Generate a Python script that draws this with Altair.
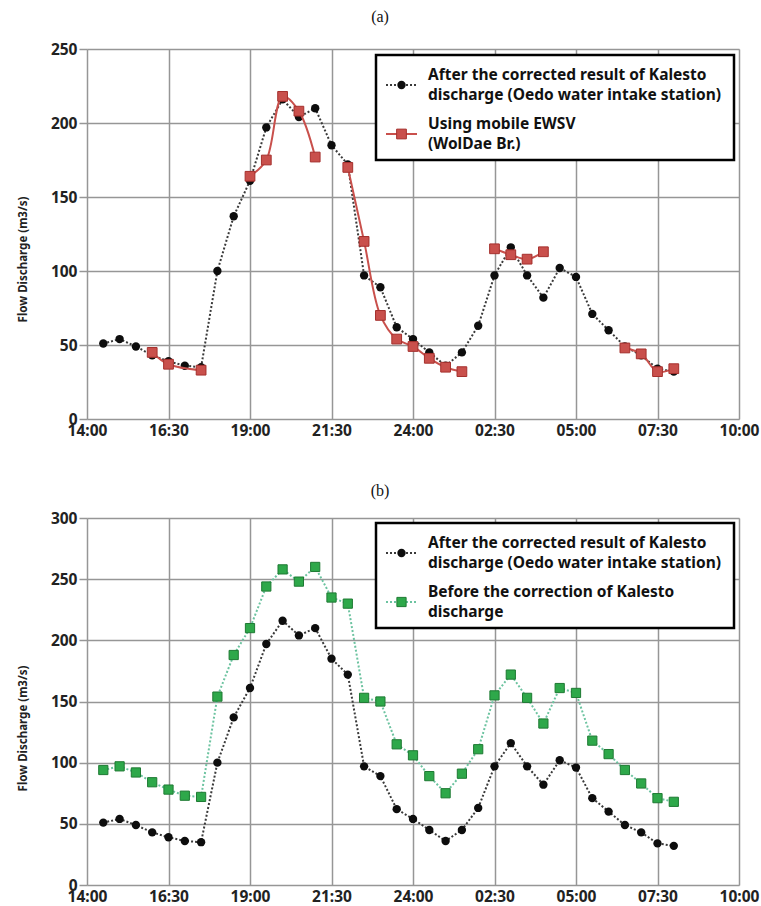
import altair as alt
import pandas as pd

# ---- time axis (30-minute readings, 14:30 on day 1 to 08:00 on day 2) ----
times = ["14:30", "15:00", "15:30", "16:00", "16:30", "17:00", "17:30", "18:00",
         "18:30", "19:00", "19:30", "20:00", "20:30", "21:00", "21:30", "22:00",
         "22:30", "23:00", "23:30", "24:00", "00:30", "01:00", "01:30", "02:00",
         "02:30", "03:00", "03:30", "04:00", "04:30", "05:00", "05:30", "06:00",
         "06:30", "07:00", "07:30", "08:00"]

# After the corrected result of Kalesto discharge (Oedo water intake station)
corrected = [51, 54, 49, 43, 39, 36, 35, 100, 137, 161, 197, 216, 204, 210, 185, 172,
             97, 89, 62, 54, 45, 36, 45, 63, 97, 116, 97, 82, 102, 96, 71, 60,
             49, 43, 34, 32]

# Before the correction of Kalesto discharge
before = [94, 97, 92, 84, 78, 73, 72, 154, 188, 210, 244, 258, 248, 260, 235, 230,
          153, 150, 115, 106, 89, 75, 91, 111, 155, 172, 153, 132, 161, 157, 118, 107,
          94, 83, 71, 68]

# Using mobile EWSV (WolDae Br.) -- measured runs, one group per continuous run
ewsv_times = ["16:00", "16:30", "17:30",
              "19:00", "19:30", "20:00", "20:30", "21:00",
              "22:00", "22:30", "23:00", "23:30", "24:00", "00:30", "01:00", "01:30",
              "02:30", "03:00", "03:30", "04:00",
              "06:30", "07:00", "07:30", "08:00"]
ewsv_vals = [45, 37, 33,
             164, 175, 218, 208, 177,
             170, 120, 70, 54, 49, 41, 35, 32,
             115, 111, 108, 113,
             48, 44, 32, 34]
ewsv_group = [1, 1, 1,
              2, 2, 2, 2, 2,
              3, 3, 3, 3, 3, 3, 3, 3,
              4, 4, 4, 4,
              5, 5, 5, 5]

tick_hours = [14, 16.5, 19, 21.5, 24, 26.5, 29, 31.5, 34]
tick_labels = ["14:00", "16:30", "19:00", "21:30", "24:00", "02:30", "05:00", "07:30", "10:00"]

legend_a = ["After the corrected result of Kalesto",
            "discharge (Oedo water intake station)",
            "Using mobile EWSV",
            "(WolDae Br.)"]
legend_b = ["After the corrected result of Kalesto",
            "discharge (Oedo water intake station)",
            "Before the correction of Kalesto",
            "discharge"]


def to_hours(t):
    h, m = t.split(":")
    h, m = int(h), int(m)
    if h < 14:
        h += 24
    return h + m / 60.0


base_df = pd.DataFrame({"t": [to_hours(t) for t in times],
                        "corrected": corrected, "before": before})
ewsv_df = pd.DataFrame({"t": [to_hours(t) for t in ewsv_times],
                        "q": ewsv_vals, "grp": ewsv_group})

label_expr = " : ".join(
    f"datum.value == {v} ? '{s}'" for v, s in zip(tick_hours, tick_labels)) + " : ''"

FONT = "Noto Sans"
BLACK_LINE = "#3a3a3a"
RED = "#C9504C"
RED_EDGE = "#A5302D"
GREEN = "#2EA84A"
GREEN_EDGE = "#1E7A33"
GREEN_LINE = "#6CC3A0"
GRID = "#969696"


def x_enc():
    return alt.X("t:Q",
                 scale=alt.Scale(domain=[14, 34], nice=False, zero=False),
                 axis=alt.Axis(values=tick_hours, labelExpr=label_expr, title=None,
                               grid=True, gridColor=GRID, gridWidth=1.5,
                               domain=False, ticks=False, labelFlush=False,
                               labelOverlap=False, labelFont=FONT,
                               labelFontWeight="bold", labelFontSize=15.5,
                               labelColor="#222", labelPadding=4))


def y_enc(field, ymax):
    return alt.Y(f"{field}:Q",
                 scale=alt.Scale(domain=[0, ymax], nice=False),
                 axis=alt.Axis(values=list(range(0, ymax + 1, 50)),
                               title="Flow Discharge (m3/s)",
                               titleFont=FONT, titleFontWeight="bold",
                               titleFontSize=11.5, titleColor="#222",
                               titleX=-64, titleY=210, titleAngle=-90,
                               titleAlign="center", titleBaseline="middle",
                               grid=True, gridColor=GRID, gridWidth=1.5,
                               domain=False, tickSize=8, tickColor=GRID,
                               tickWidth=1.5, labelFont=FONT,
                               labelFontWeight="bold", labelFontSize=15.5,
                               labelColor="#222", labelPadding=2))


def corrected_layers(ymax):
    line = alt.Chart(base_df).mark_line(
        color=BLACK_LINE, strokeWidth=2, strokeDash=[2, 2]
    ).encode(x=x_enc(), y=y_enc("corrected", ymax))
    pts = alt.Chart(base_df).mark_point(
        shape="circle", filled=True, color="#0d0d0d", size=70, opacity=1
    ).encode(x="t:Q", y="corrected:Q")
    return [line, pts]


def legend_layers(lines, y0, y1, second_kind):
    one = pd.DataFrame({"k": [0]})
    layers = []
    layers.append(alt.Chart(one).mark_rect(
        fill="white", stroke="black", strokeWidth=2.5
    ).encode(x=alt.value(289), x2=alt.value(647), y=alt.value(y0), y2=alt.value(y1)))
    # row offsets inside the box
    text_y = [y0 + 20, y0 + 40, y0 + 69, y0 + 89]
    for ty, s in zip(text_y, lines):
        layers.append(alt.Chart(one).mark_text(
            align="left", baseline="middle", font=FONT, fontWeight="bold",
            fontSize=15.5, color="#111"
        ).encode(x=alt.value(341), y=alt.value(ty), text=alt.value(s)))
    s1 = y0 + 30
    s2 = y0 + 79
    layers.append(alt.Chart(one).mark_rule(
        color=BLACK_LINE, strokeWidth=2, strokeDash=[2, 2]
    ).encode(x=alt.value(299), x2=alt.value(330), y=alt.value(s1)))
    layers.append(alt.Chart(one).mark_point(
        shape="circle", filled=True, color="#0d0d0d", size=70, opacity=1
    ).encode(x=alt.value(314.5), y=alt.value(s1)))
    if second_kind == "ewsv":
        layers.append(alt.Chart(one).mark_rule(
            color=RED, strokeWidth=2
        ).encode(x=alt.value(299), x2=alt.value(330), y=alt.value(s2)))
        layers.append(alt.Chart(one).mark_point(
            shape="square", filled=True, fill=RED, stroke=RED_EDGE, strokeWidth=1,
            size=95, opacity=1
        ).encode(x=alt.value(314.5), y=alt.value(s2)))
    else:
        layers.append(alt.Chart(one).mark_rule(
            color=GREEN_LINE, strokeWidth=2, strokeDash=[2, 2]
        ).encode(x=alt.value(299), x2=alt.value(330), y=alt.value(s2)))
        layers.append(alt.Chart(one).mark_point(
            shape="square", filled=True, fill=GREEN, stroke=GREEN_EDGE, strokeWidth=1,
            size=85, opacity=1
        ).encode(x=alt.value(314.5), y=alt.value(s2)))
    return layers


title_style = dict(font="Liberation Serif", fontSize=16, fontWeight="normal",
                   color="#111", anchor="middle", dx=-33)

# ---- panel (a): corrected discharge vs mobile EWSV ----
ewsv_line = alt.Chart(ewsv_df).mark_line(
    color=RED, strokeWidth=2, interpolate="catmull-rom"
).encode(x="t:Q", y="q:Q", detail="grp:N")
ewsv_pts = alt.Chart(ewsv_df).mark_point(
    shape="square", filled=True, fill=RED, stroke=RED_EDGE, strokeWidth=1,
    size=95, opacity=1
).encode(x="t:Q", y="q:Q")

panel_a = alt.layer(
    *corrected_layers(250), ewsv_line, ewsv_pts,
    *legend_layers(legend_a, 6, 111, "ewsv")
).properties(width=652, height=370,
             title=alt.TitleParams("(a)", offset=17, **title_style))

# ---- panel (b): corrected vs uncorrected discharge ----
before_line = alt.Chart(base_df).mark_line(
    color=GREEN_LINE, strokeWidth=2, strokeDash=[2, 2]
).encode(x="t:Q", y="before:Q")
before_pts = alt.Chart(base_df).mark_point(
    shape="square", filled=True, fill=GREEN, stroke=GREEN_EDGE, strokeWidth=1,
    size=85, opacity=1
).encode(x="t:Q", y="before:Q")

panel_b = alt.layer(
    before_line, *corrected_layers(300), before_pts,
    *legend_layers(legend_b, 5, 110, "before")
).properties(width=652, height=367,
             title=alt.TitleParams("(b)", offset=12, **title_style))

chart = alt.vconcat(panel_a, panel_b, spacing=43).properties(
    padding={"left": 16, "top": 8, "right": 0, "bottom": 0}
).configure_view(
    stroke="#111", strokeWidth=2
).configure(background="white")

chart.save("out.html", embed_options={"renderer": "svg", "actions": False})
